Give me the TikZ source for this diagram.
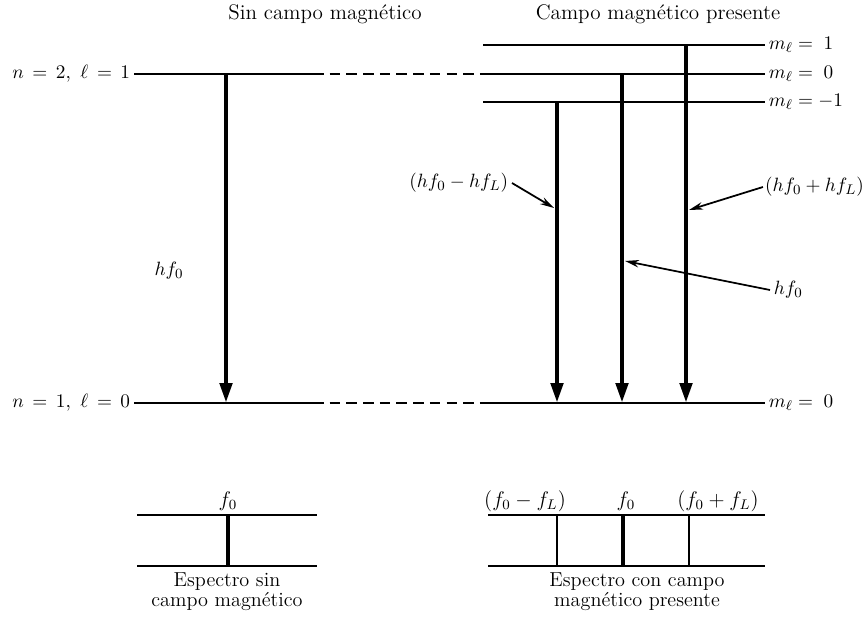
\documentclass[tikz,border=0pt]{standalone}
\usetikzlibrary{arrows.meta,positioning,calc}

\begin{document}
\begin{tikzpicture}[
    x=0.02cm, y=-0.02cm,
    font=\fontsize{12}{14}\selectfont,
    lab/.style={font=\fontsize{11}{13}\selectfont, inner sep=2pt},
    level/.style={line width=1.1pt},
    gap/.style={line width=1.1pt, dash pattern=on 6pt off 3.5pt},
    trans/.style={-{Triangle[length=0.4cm,width=0.24cm]}, line width=2.6pt},
    pointer/.style={-{Stealth[length=0.28cm,width=0.15cm]}, line width=1pt},
    line/.style={line width=0.6pt},
    caption/.style={align=center, font=\fontsize{11.5}{9.5}\selectfont}
  ]
  \useasboundingbox (0,0) rectangle (868,618);

  % titles
  \node (tsin) at (325,14) {Sin campo magn\'etico};
  \node (tcon) at (658,14) {Campo magn\'etico presente};

  % energy levels
  \node[lab, anchor=east] (up) at (134,74) {$n\,=\,2,\ \ell\,=\,1$};
  \node[lab, anchor=east] (lo) at (134,403) {$n\,=\,1,\ \ell\,=\,0$};
  \coordinate (upa) at (313,74);
  \coordinate (upb) at (483,74);
  \coordinate (loa) at (313,403);
  \coordinate (lob) at (483,403);

  \node[lab, anchor=west] (m1) at (765,45) {$m_\ell = \;1$};
  \node[lab, anchor=west] (m0) at (765,74) {$m_\ell = \;0$};
  \node[lab, anchor=west] (mm) at (765,102) {$m_\ell = -1$};
  \node[lab, anchor=west] (mg) at (765,403) {$m_\ell = \;0$};

  \draw[level] (up.east) -- (upa);
  \draw[gap] (upa) -- (upb);
  \draw[level] (upb) -- (m0.west);
  \draw[level] (483,45) coordinate (m1a) -- (m1.west);
  \draw[level] (483,102) coordinate (mma) -- (mm.west);
  \draw[level] (lo.east) -- (loa);
  \draw[gap] (loa) -- (lob);
  \draw[level] (lob) -- (mg.west);

  % transitions
  \coordinate (a0t) at (226,74);   \coordinate (a0b) at (226,403);
  \coordinate (a1t) at (557,102);  \coordinate (a1b) at (557,403);
  \coordinate (a2t) at (622,74);   \coordinate (a2b) at (622,403);
  \coordinate (a3t) at (686,45);   \coordinate (a3b) at (686,403);
  \draw[trans] (a0t) -- (a0b);
  \draw[trans] (a1t) -- (a1b);
  \draw[trans] (a2t) -- (a2b);
  \draw[trans] (a3t) -- (a3b);

  \node[lab] (hfl) at (169,271) {$hf_0$};
  \node[lab, anchor=east] (hminus) at (512,183) {$(hf_0 - hf_L)$};
  \node[lab, anchor=east, inner sep=1pt] (hplus) at (866,187) {$(hf_0 + hf_L)$};
  \node[lab, anchor=west] (hfr) at (770,290) {$hf_0$};
  \draw[pointer] (hminus.east) -- (554,208);
  \draw[pointer] (hplus.west) -- (689,210);
  \draw[pointer] (hfr.west) -- (625,261);

  % spectra
  \draw[level] (137,515) -- (317,515);
  \draw[level] (137,566) -- (317,566);
  \draw[trans, -] (228,515) -- (228,566);
  \node (s0) at (228,501) {$f_0$};
  \node[caption] (cs) at (227,592) {Espectro sin\\campo magn\'etico};

  \draw[level] (488,515) -- (765,515);
  \draw[level] (488,566) -- (765,566);
  \draw[line] (557,515) -- (557,566);
  \draw[trans, -] (623,515) -- (623,566);
  \draw[line] (689,515) -- (689,566);
  \node (s1) at (525,501) {$(f_0 - f_L)$};
  \node (s2) at (626,501) {$f_0$};
  \node (s3) at (718,501) {$(f_0 + f_L)$};
  \node[caption] (cc) at (637,592) {Espectro con campo\\magn\'etico presente};
\end{tikzpicture}
\end{document}
